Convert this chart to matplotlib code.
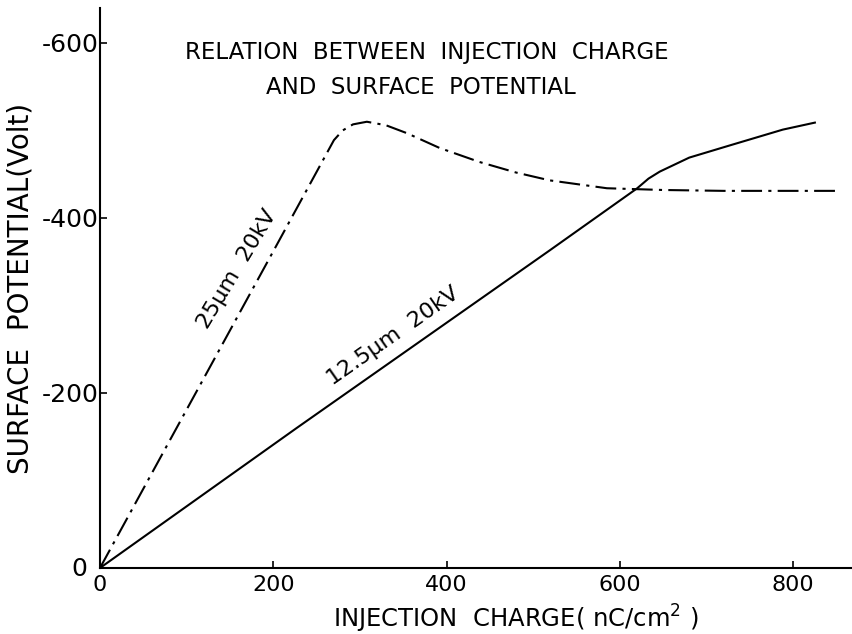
import matplotlib
matplotlib.use('Agg')
import matplotlib.pyplot as plt

# 25 um film, 20 kV (dash-dot curve)
charge_25 = [0, 100, 200, 270, 280, 292, 308, 330, 354, 392, 438, 480, 519, 585, 650, 720, 800, 849]
potential_25 = [0, -181, -362, -489, -500, -507, -510, -506, -497, -480, -464, -452, -443, -434, -432, -431, -431, -431]

# 12.5 um film, 20 kV (solid curve)
charge_125 = [0, 227, 519, 620, 633, 646, 680, 727, 788, 825]
potential_125 = [0, -160, -363, -434, -445, -453, -469, -483, -501, -509]

x_ticks = [0, 200, 400, 600, 800]
y_ticks = [0, -200, -400, -600]

plt.rcParams['axes.unicode_minus'] = False
plt.rcParams['font.family'] = 'DejaVu Sans'

fig = plt.figure(figsize=(8.53, 6.34), dpi=100)
ax = fig.add_axes([0.1172, 0.1041, 0.8828, 0.8833])

ax.plot(charge_125, potential_125, color='black', lw=1.5)
ax.plot(charge_25, potential_25, color='black', lw=1.5, ls=(0, (10, 3, 1.5, 3)))

ax.set_xlim(0, 869)
ax.set_ylim(0, -640)

ax.spines['top'].set_visible(False)
ax.spines['right'].set_visible(False)
ax.spines['left'].set_linewidth(1.5)
ax.spines['bottom'].set_linewidth(1.5)

ax.set_xticks(x_ticks)
ax.set_xticklabels([str(v) for v in x_ticks], fontsize=16)
ax.set_yticks(y_ticks)
# the 0 on the y axis sits a bit left of the others, drawn separately below
ax.set_yticklabels(['' if v == 0 else str(v) for v in y_ticks], fontsize=18)
ax.tick_params(axis='x', direction='in', length=5, width=1.2, pad=5)
ax.tick_params(axis='y', direction='in', length=5, width=1.2, pad=1)
ax.annotate('0', xy=(0, 0), xytext=(-9, -1), textcoords='offset points',
            ha='right', va='center', fontsize=18)

ax.set_xlabel('INJECTION  CHARGE( nC/cm$^2$ )', fontsize=17.5)
ax.xaxis.set_label_coords(0.552, -0.09)
ax.xaxis.label.set_va('center')
ax.set_ylabel('SURFACE  POTENTIAL(Volt)', fontsize=20)
ax.yaxis.set_label_coords(-0.105, 0.5)
ax.yaxis.label.set_va('center')

ax.text(377, -589, 'RELATION  BETWEEN  INJECTION  CHARGE', fontsize=16.5,
        ha='center', va='center')
ax.text(370, -549, 'AND  SURFACE  POTENTIAL', fontsize=16.5,
        ha='center', va='center')

ax.text(158, -342, '25\u00b5m  20kV', fontsize=16, rotation=59,
        rotation_mode='anchor', ha='center', va='center')
ax.text(338, -265, '12.5\u00b5m  20kV', fontsize=16, rotation=35,
        rotation_mode='anchor', ha='center', va='center')

fig.savefig('out.png', dpi=100)
